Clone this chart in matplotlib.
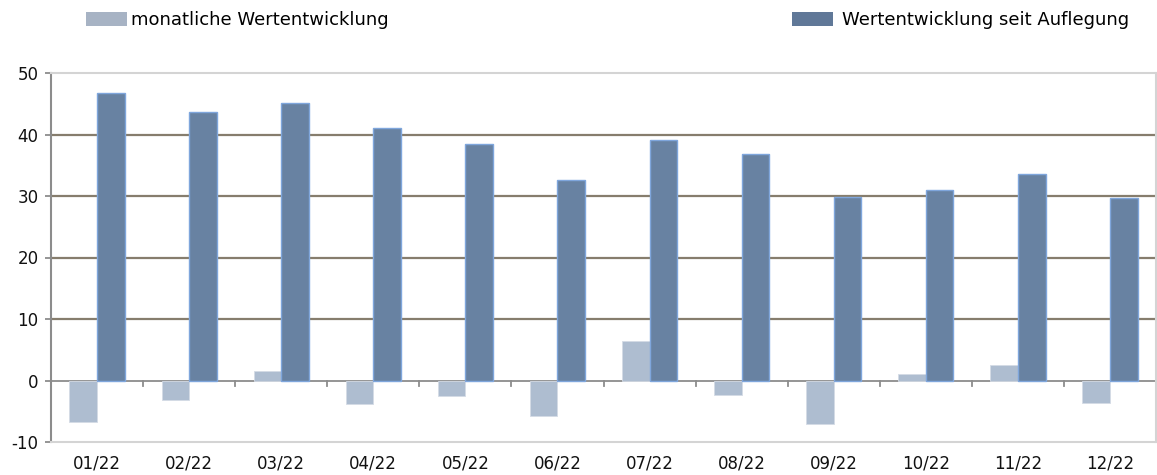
import matplotlib
matplotlib.use("Agg")
import matplotlib.pyplot as plt
from matplotlib.patches import Patch
import numpy as np

categories = ["01/22", "02/22", "03/22", "04/22", "05/22", "06/22",
              "07/22", "08/22", "09/22", "10/22", "11/22", "12/22"]
monthly = [-6.8, -3.1, 1.5, -3.9, -2.6, -5.8, 6.5, -2.3, -7.1, 1.1, 2.6, -3.7]
cumulative = [46.8, 43.7, 45.1, 41.1, 38.5, 32.6, 39.1, 36.9, 29.9, 31.0, 33.6, 29.7]
yticks = [-10, 0, 10, 20, 30, 40, 50]
label_monthly = "monatliche Wertentwicklung"
label_cum = "Wertentwicklung seit Auflegung"

plt.rcParams['font.family'] = ['DejaVu Sans']

fig = plt.figure(figsize=(11.57, 4.75), dpi=100)
ax = fig.add_axes([51/1157, 1-442/475, (1156-51)/1157, (442-73)/475])

x = np.arange(len(categories))
w = 0.3
ax.bar(x - w/2, monthly, width=w, color="#aebdd0", edgecolor="#d4dbe5", linewidth=0.6, zorder=3)
ax.bar(x + w/2, cumulative, width=w, color="#6882a2", edgecolor="#7fa6dc", linewidth=1.0, zorder=3)

ax.set_xlim(-0.5, len(categories) - 0.5)
ax.set_ylim(-10, 50)
ax.set_yticks(yticks)
ax.set_yticklabels([str(v) for v in yticks], fontsize=12, color="#111111")
for v in [10, 20, 30, 40]:
    ax.axhline(v, color="#867d6d", linewidth=1.6, zorder=1)
ax.axhline(0, color="#8c8c8c", linewidth=1.3, zorder=2)

# category boundary ticks on zero line
for b in np.arange(0.5, len(categories) - 0.5, 1.0):
    ax.plot([b, b], [0, -0.9], color="#8c8c8c", linewidth=1.3, zorder=2, clip_on=False)

ax.set_xticks(x)
ax.set_xticklabels(categories, fontsize=12, color="#111111")
ax.tick_params(axis='x', length=0, pad=9)
ax.tick_params(axis='y', length=4, width=1.3, color="#8c8c8c", pad=5)

for s in ["top", "bottom", "right"]:
    ax.spines[s].set_color("#d4d4d4")
    ax.spines[s].set_linewidth(1.5)
ax.spines["left"].set_color("#8c8c8c")
ax.spines["left"].set_linewidth(1.5)

h1 = Patch(facecolor="#a7b3c4", edgecolor="none")
h2 = Patch(facecolor="#607898", edgecolor="none")
leg1 = fig.legend([h1], [label_monthly], loc="upper left", bbox_to_anchor=(86/1157, 1-11/475),
                  frameon=False, fontsize=13, handlelength=2.25, handleheight=0.8,
                  handletextpad=0.25, borderpad=0, borderaxespad=0)
fig.legend([h2], [label_cum], loc="upper left", bbox_to_anchor=(792/1157, 1-11/475),
           frameon=False, fontsize=13, handlelength=2.25, handleheight=0.8,
           handletextpad=0.5, borderpad=0, borderaxespad=0)

fig.savefig("out.png", dpi=100)
